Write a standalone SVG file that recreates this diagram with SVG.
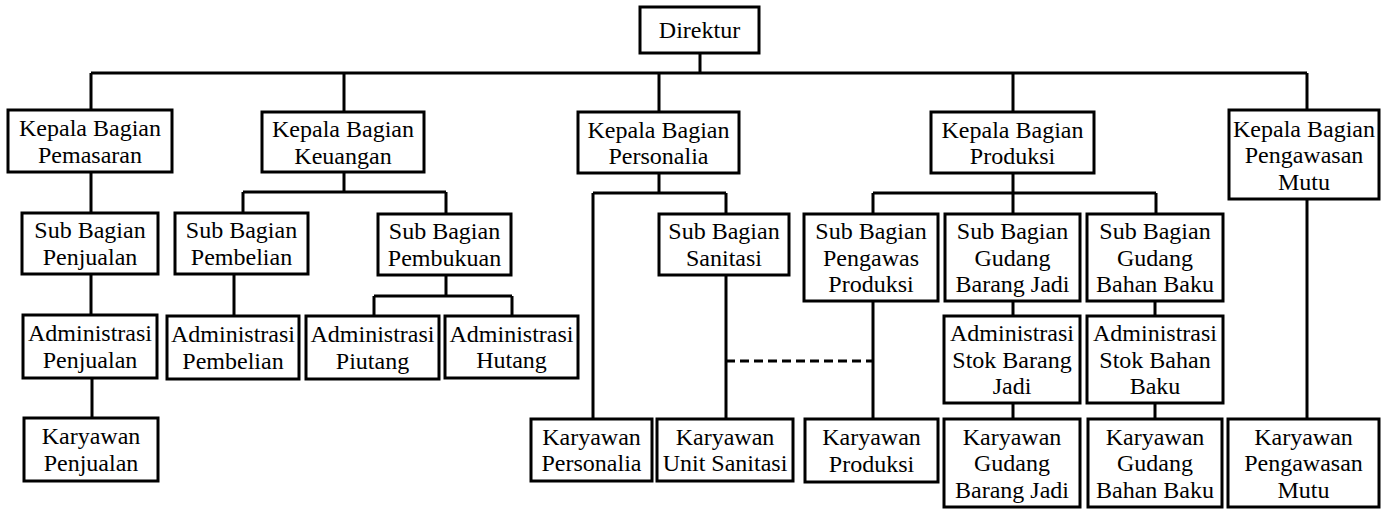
<svg xmlns="http://www.w3.org/2000/svg" width="1381" height="509" viewBox="0 0 1381 509">
<style>
.box{fill:#fff;stroke:#000;stroke-width:3}
.ln{fill:none;stroke:#000;stroke-width:3}
.dash{fill:none;stroke:#000;stroke-width:3;stroke-dasharray:9 5}
text{font-size:24px;text-anchor:middle;fill:#000}
</style>
<rect width="1381" height="509" fill="#fff"/>
<g id="connectors">
<path class="ln" d="M700 53V73M91 73H1307M91 73V110M344 73V112M659 73V112M1013 73V112M1307 73V110"/>
<path class="ln" d="M91 172V213M91 274V315M92 378V418"/>
<path class="ln" d="M344 172V192M243 192H446M243 192V213M446 192V214M234 274V316"/>
<path class="ln" d="M446 275V296M374 296H512M374 296V316M512 296V316"/>
<path class="ln" d="M659 173V193M593 193H726M593 193V419M726 193V214M726 275V419"/>
<path class="dash" d="M726 361H873"/>
<path class="ln" d="M1013 173V193M873 193H1156M873 193V214M1013 193V214M1156 193V214M873 301V419"/>
<path class="ln" d="M1013 301V316M1013 403V419M1155 301V316M1155 403V419M1307 199V419"/>
</g>
<g id="nodes" font-family="'Liberation Serif', serif">
<g id="direktur"><rect class="box" x="640" y="7" width="119" height="46"/><text x="699.5" y="38">Direktur</text></g>
<g id="kb_pemasaran"><rect class="box" x="8" y="110" width="164" height="62"/><text x="90" y="136">Kepala Bagian</text><text x="90" y="162.5">Pemasaran</text></g>
<g id="kb_keuangan"><rect class="box" x="262" y="112" width="162" height="60"/><text x="343" y="137">Kepala Bagian</text><text x="343" y="163.5">Keuangan</text></g>
<g id="kb_personalia"><rect class="box" x="578" y="112" width="161" height="61"/><text x="658.5" y="137.5">Kepala Bagian</text><text x="658.5" y="164">Personalia</text></g>
<g id="kb_produksi"><rect class="box" x="931" y="112" width="163" height="61"/><text x="1012.5" y="137.5">Kepala Bagian</text><text x="1012.5" y="164">Produksi</text></g>
<g id="kb_mutu"><rect class="box" x="1229" y="110" width="150" height="89"/><text x="1304" y="136.5">Kepala Bagian</text><text x="1304" y="163">Pengawasan</text><text x="1304" y="189.5">Mutu</text></g>
<g id="sb_penjualan"><rect class="box" x="22" y="213" width="136" height="61"/><text x="90" y="238">Sub Bagian</text><text x="90" y="264.5">Penjualan</text></g>
<g id="adm_penjualan"><rect class="box" x="23" y="315" width="134" height="63"/><text x="90" y="341">Administrasi</text><text x="90" y="367.5">Penjualan</text></g>
<g id="kar_penjualan"><rect class="box" x="24" y="418" width="134" height="63"/><text x="91" y="444">Karyawan</text><text x="91" y="470.5">Penjualan</text></g>
<g id="sb_pembelian"><rect class="box" x="175" y="213" width="133" height="61"/><text x="241.5" y="238">Sub Bagian</text><text x="241.5" y="264.5">Pembelian</text></g>
<g id="sb_pembukuan"><rect class="box" x="378" y="214" width="133" height="61"/><text x="444.5" y="239">Sub Bagian</text><text x="444.5" y="265.5">Pembukuan</text></g>
<g id="adm_pembelian"><rect class="box" x="167" y="316" width="132" height="63"/><text x="233" y="342">Administrasi</text><text x="233" y="368.5">Pembelian</text></g>
<g id="adm_piutang"><rect class="box" x="306" y="316" width="133" height="63"/><text x="372.5" y="342">Administrasi</text><text x="372.5" y="368.5">Piutang</text></g>
<g id="adm_hutang"><rect class="box" x="445" y="316" width="133" height="62"/><text x="511.5" y="341.5">Administrasi</text><text x="511.5" y="368">Hutang</text></g>
<g id="sb_sanitasi"><rect class="box" x="659" y="214" width="130" height="61"/><text x="724" y="239">Sub Bagian</text><text x="724" y="265.5">Sanitasi</text></g>
<g id="kar_personalia"><rect class="box" x="531" y="419" width="121" height="62"/><text x="591.5" y="444.5">Karyawan</text><text x="591.5" y="471">Personalia</text></g>
<g id="kar_sanitasi"><rect class="box" x="657" y="419" width="136" height="62"/><text x="725" y="444.5">Karyawan</text><text x="725" y="471">Unit Sanitasi</text></g>
<g id="sb_pengawas"><rect class="box" x="804" y="214" width="134" height="87"/><text x="871" y="239">Sub Bagian</text><text x="871" y="265.5">Pengawas</text><text x="871" y="292">Produksi</text></g>
<g id="kar_produksi"><rect class="box" x="805" y="419" width="133" height="63"/><text x="871.5" y="445">Karyawan</text><text x="871.5" y="471.5">Produksi</text></g>
<g id="sb_gbj"><rect class="box" x="945" y="214" width="135" height="87"/><text x="1012.5" y="239">Sub Bagian</text><text x="1012.5" y="265.5">Gudang</text><text x="1012.5" y="292">Barang Jadi</text></g>
<g id="sb_gbb"><rect class="box" x="1087" y="214" width="136" height="87"/><text x="1155" y="239">Sub Bagian</text><text x="1155" y="265.5">Gudang</text><text x="1155" y="292">Bahan Baku</text></g>
<g id="adm_sbj"><rect class="box" x="944" y="316" width="136" height="87"/><text x="1012" y="341">Administrasi</text><text x="1012" y="367.5">Stok Barang</text><text x="1012" y="394">Jadi</text></g>
<g id="adm_sbb"><rect class="box" x="1087" y="316" width="136" height="87"/><text x="1155" y="341">Administrasi</text><text x="1155" y="367.5">Stok Bahan</text><text x="1155" y="394">Baku</text></g>
<g id="kar_gbj"><rect class="box" x="944" y="419" width="136" height="88"/><text x="1012" y="444.5">Karyawan</text><text x="1012" y="471">Gudang</text><text x="1012" y="497.5">Barang Jadi</text></g>
<g id="kar_gbb"><rect class="box" x="1088" y="419" width="134" height="88"/><text x="1155" y="444.5">Karyawan</text><text x="1155" y="471">Gudang</text><text x="1155" y="497.5">Bahan Baku</text></g>
<g id="kar_mutu"><rect class="box" x="1228" y="419" width="151" height="88"/><text x="1303.5" y="444.5">Karyawan</text><text x="1303.5" y="471">Pengawasan</text><text x="1303.5" y="497.5">Mutu</text></g>
</g>
</svg>
